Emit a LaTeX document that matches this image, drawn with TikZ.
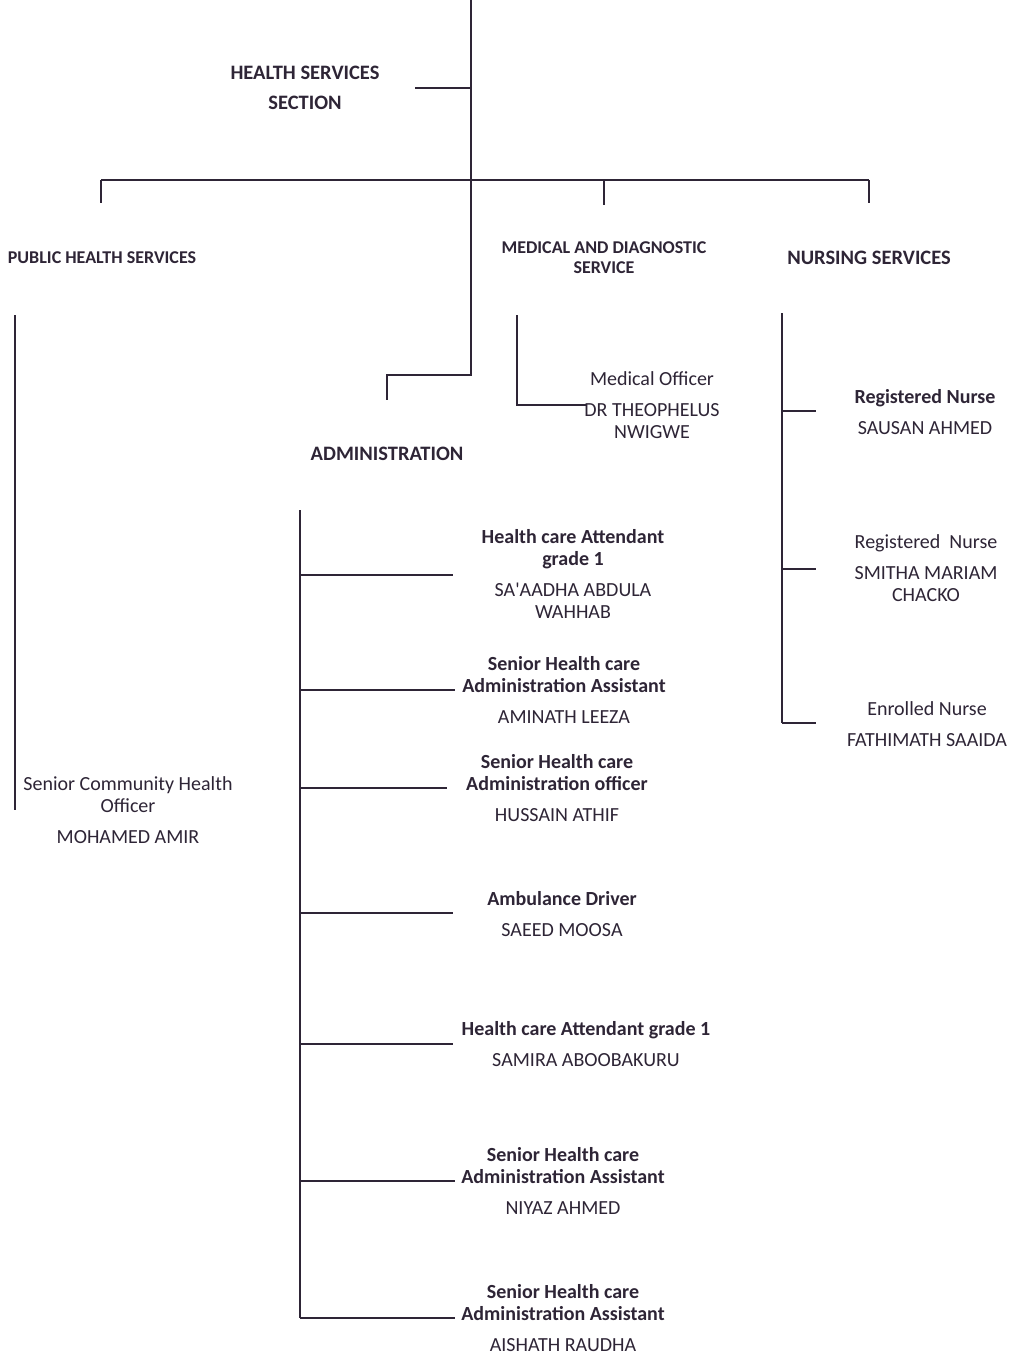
\documentclass[tikz,border=0pt]{standalone}
\usepackage{fontspec}
\setmainfont{Carlito}
\definecolor{ink}{HTML}{2E2536}
\begin{document}
\begin{tikzpicture}[x=1pt,y=-1pt,
  every node/.style={inner sep=0pt,text=ink,align=center},
  ln/.style={draw=ink,line width=1.3pt},
  hd/.style={font=\fontsize{20.5}{30}\selectfont\bfseries},
  hds/.style={font=\fontsize{18}{20}\selectfont\bfseries},
  rg/.style={font=\fontsize{20}{22}\selectfont},
  bd/.style={font=\fontsize{20}{22}\selectfont\bfseries}]
\useasboundingbox[fill=white] (0,0) rectangle (1017,1357);
% headers
\node[hd] (hss) at (305,88) {HEALTH SERVICES\\SECTION};
\node[hds] (phs) at (102,258) {PUBLIC HEALTH SERVICES};
\node[hds] (mds) at (604,258) {MEDICAL AND DIAGNOSTIC\\SERVICE};
\node[hd] (ns) at (869,258) {NURSING SERVICES};
\node[hd] (adm) at (387,454) {ADMINISTRATION};
% medical
\node[rg] (mo) at (652,405) {Medical Officer\\[9pt]DR THEOPHELUS\\NWIGWE};
% nursing
\node[rg] (rn1) at (925,412) {\textbf{Registered Nurse}\\[9pt]SAUSAN AHMED};
\node[rg] (rn2) at (926,568) {Registered\ \ Nurse\\[9pt]SMITHA MARIAM\\CHACKO};
\node[rg] (en) at (927,724) {Enrolled Nurse\\[9pt]FATHIMATH SAAIDA};
% public
\node[rg] (sch) at (128,810) {Senior Community Health\\Officer\\[9pt]MOHAMED AMIR};
% administration
\node[rg] (a1) at (573,574) {\textbf{Health care Attendant}\\\textbf{grade 1}\\[9pt]SA\textquotesingle AADHA ABDULA\\WAHHAB};
\node[rg] (a2) at (564,690) {\textbf{Senior Health care}\\\textbf{Administration Assistant}\\[9pt]AMINATH LEEZA};
\node[rg] (a3) at (557,788) {\textbf{Senior Health care}\\\textbf{Administration officer}\\[9pt]HUSSAIN ATHIF};
\node[rg] (a4) at (562,914) {\textbf{Ambulance Driver}\\[9pt]SAEED MOOSA};
\node[rg] (a5) at (586,1044) {\textbf{Health care Attendant grade 1}\\[9pt]SAMIRA ABOOBAKURU};
\node[rg] (a6) at (563,1181) {\textbf{Senior Health care}\\\textbf{Administration Assistant}\\[9pt]NIYAZ AHMED};
\node[rg] (a7) at (563,1318) {\textbf{Senior Health care}\\\textbf{Administration Assistant}\\[9pt]AISHATH RAUDHA};
% coordinates
\coordinate (top) at (471,0);
\coordinate (hssj) at (471,88);
\coordinate (hsse) at (415,88);
\coordinate (bar) at (471,180);
\coordinate (barL) at (101,180);
\coordinate (barR) at (869,180);
\coordinate (barM) at (604,180);
\coordinate (dL) at (101,203);
\coordinate (dM) at (604,205);
\coordinate (dR) at (869,203);
\coordinate (adj) at (471,375);
\coordinate (adk) at (387,375);
\coordinate (add) at (387,400);
\coordinate (phT) at (15,315);
\coordinate (phB) at (15,810);
\coordinate (mdT) at (517,315);
\coordinate (mdC) at (517,405);
\coordinate (mdE) at (586,405);
\coordinate (nsT) at (782,313);
\coordinate (nsB) at (782,723);
\coordinate (adT) at (300,510);
\coordinate (adB) at (300,1318);
% connectors
\draw[ln] (top) -- (adj) -- (adk) -- (add);
\draw[ln] (hsse) -- (hssj);
\draw[ln] (barL) -- (barR);
\draw[ln] (barL) -- (dL);
\draw[ln] (barM) -- (dM);
\draw[ln] (barR) -- (dR);
\draw[ln] (phT) -- (phB);
\draw[ln] (mdT) -- (mdC) -- (mdE);
\draw[ln] (nsT) -- (nsB);
\foreach \y in {411,569,723} \draw[ln] (nsT |- 0,\y) -- (816,\y);
\draw[ln] (adT) -- (adB);
\foreach \y/\e in {575/453,690/455,788/447,913/453,1044/453,1181/455,1318/455}
  \draw[ln] (adT |- 0,\y) -- (\e,\y);
\end{tikzpicture}
\end{document}
